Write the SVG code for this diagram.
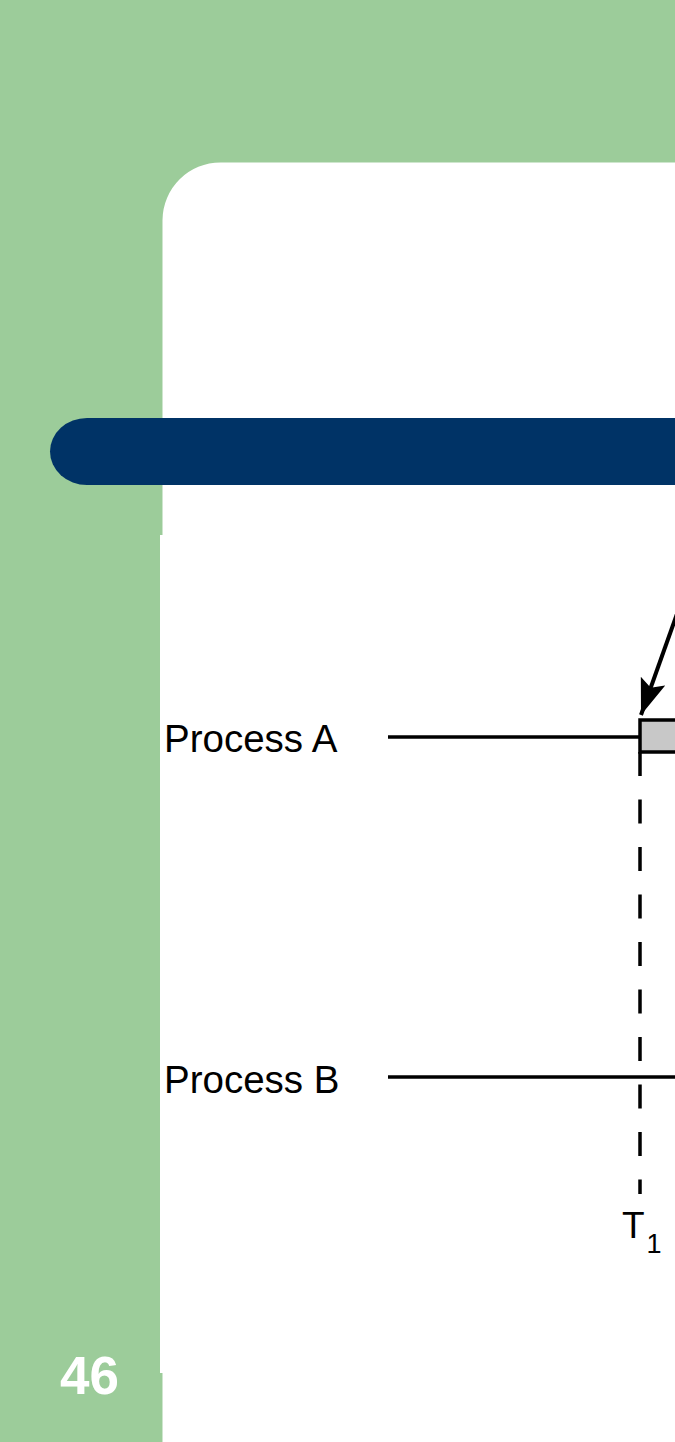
<svg xmlns="http://www.w3.org/2000/svg" width="675" height="1442" viewBox="0 0 675 1442">
  <style>
    .lbl { font-family: "Liberation Sans", Arial, sans-serif; fill: #000; }
    .ln { stroke: #000; stroke-width: 3.5; fill: none; }
  </style>
  <defs>
    <marker id="ah" markerUnits="userSpaceOnUse" markerWidth="40" markerHeight="30" refX="36" refY="13" orient="auto" viewBox="0 0 40 30">
      <path d="M0,0 L36,13 L0,26 L7,13 Z" fill="#000"/>
    </marker>
  </defs>
  <g id="background">
    <rect x="0" y="0" width="675" height="1442" fill="#9ccc9a"/>
    <path d="M162.5,1442 L162.5,220 A58,58 0 0 1 220.5,162.5 L675,162.5 L675,1442 Z" fill="#fff"/>
    <rect x="160" y="535" width="515" height="838" fill="#fff"/>
    <path d="M87,418 L675,418 L675,485 L87,485 A37,33.5 0 0 1 87,418 Z" fill="#003366"/>
    <text x="60" y="1394" font-family="Liberation Sans, Arial, sans-serif" font-size="53" font-weight="bold" fill="#fff">46</text>
  </g>
  <g id="connectors">
    <line class="ln" x1="388" y1="737" x2="640" y2="737"/>
    <line class="ln" x1="388" y1="1077" x2="675" y2="1077"/>
    <line class="ln" x1="640" y1="752" x2="640" y2="1194" stroke-dasharray="24 23.5"/>
    <line x1="688" y1="583" x2="641" y2="715" stroke="#000" stroke-width="4" marker-end="url(#ah)"/>
  </g>
  <g id="processA">
    <text class="lbl" x="164" y="752" style="font-size:38.5px">Process A</text>
  </g>
  <g id="processB">
    <text class="lbl" x="164" y="1093" style="font-size:38.5px">Process B</text>
  </g>
  <g id="box">
    <rect x="640" y="720" width="45" height="32" fill="#c8c8c8" stroke="#000" stroke-width="3.5"/>
  </g>
  <g id="T1">
    <text class="lbl" x="622" y="1238" style="font-size:37px">T<tspan dx="2" dy="15" style="font-size:27px">1</tspan></text>
  </g>
</svg>
